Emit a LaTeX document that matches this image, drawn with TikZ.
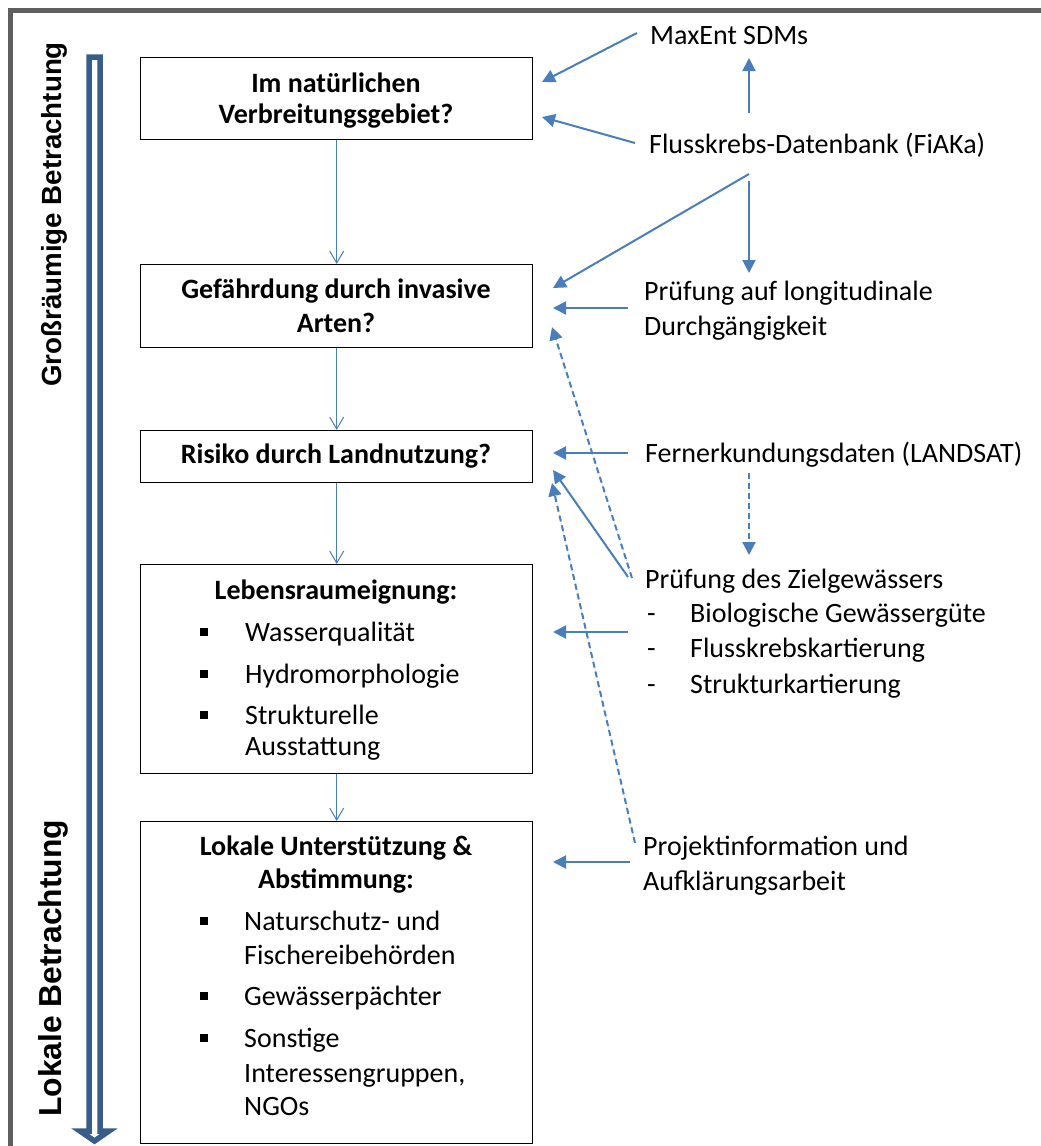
\documentclass[tikz,border=0pt]{standalone}
\usepackage{fontspec}
\setmainfont{Carlito}
\newfontfamily\arialf{Liberation Sans}
\usetikzlibrary{arrows.meta}
\definecolor{lblue}{RGB}{74,126,187}
\definecolor{dblue}{RGB}{56,93,138}
\definecolor{framegray}{RGB}{95,95,95}
\begin{document}
\begin{tikzpicture}[x=1pt,y=-1pt,
  box/.style={draw=black, line width=1.4pt, inner sep=0pt, anchor=north west, minimum width=392pt},
  txt/.style={font=\fontsize{28}{34}\selectfont, anchor=base west, inner sep=0pt},
  btxt/.style={font=\fontsize{28}{34}\selectfont\bfseries, anchor=base, inner sep=0pt},
  side/.style={font=\arialf\bfseries, rotate=90, anchor=base west, inner sep=0pt},
  flow/.style={draw=lblue, line width=1pt, -{Straight Barb[length=12pt,width=14pt]}},
  feed/.style={draw=lblue, line width=2pt, -{Triangle[length=13pt,width=13pt]}, fill=lblue},
  feedd/.style={feed, dash pattern=on 6pt off 4pt}
]
\useasboundingbox (0,0) rectangle (1041,1146);
\fill[white] (0,0) rectangle (1041,1146);
% frame
\draw[framegray, line width=5pt] (10.5,1146) -- (10.5,10.5) -- (1041,10.5);
% big double arrow
\draw[dblue, line width=5.5pt, fill=white, line join=miter]
  (89,57) -- (100,57) -- (100,1131) -- (109,1131) -- (94.5,1141) -- (80,1131) -- (89,1131) -- cycle;
% rotated labels
\node[side, font=\fontsize{27.7}{32}\selectfont\arialf\bfseries] (gross) at (61,387) {Großräumige Betrachtung};
\node[side, font=\fontsize{31.8}{36}\selectfont\arialf\bfseries] (lokal) at (61,1117) {Lokale Betrachtung};
% boxes
\node[box, minimum height=82pt] (b1) at (140,57) {};
\node[box, minimum height=83pt] (b2) at (140,264) {};
\node[box, minimum height=52pt] (b3) at (140,430) {};
\node[box, minimum height=209pt] (b4) at (140,564) {};
\node[box, minimum height=322pt] (b5) at (140,821) {};
% box texts
\node[btxt] (t1a) at (336,92) {Im natürlichen};
\node[btxt] (t1b) at (336,123) {Verbreitungsgebiet?};
\node[btxt] (t2a) at (336,298) {Gefährdung durch invasive};
\node[btxt] (t2b) at (336,332) {Arten?};
\node[btxt] (t3a) at (336,463) {Risiko durch Landnutzung?};
\node[btxt] (t4a) at (336,599) {Lebensraumeignung:};
\node[txt] (t4b) at (245,641) {Wasserqualität};
\node[txt] (t4c) at (245,683) {Hydromorphologie};
\node[txt] (t4d) at (245,724) {Strukturelle};
\node[txt] (t4e) at (245,755) {Ausstattung};
\foreach \yy in {641,683,724} {\fill (200,\yy-13) rectangle (208,\yy-5);}
\node[btxt] (t5a) at (336,855) {Lokale Unterstützung \&};
\node[btxt] (t5b) at (336,888) {Abstimmung:};
\node[txt] (t5c) at (244,930) {Naturschutz- und};
\node[txt] (t5d) at (244,964) {Fischereibehörden};
\node[txt] (t5e) at (244,1005) {Gewässerpächter};
\node[txt] (t5f) at (244,1047) {Sonstige};
\node[txt] (t5g) at (244,1082) {Interessengruppen,};
\node[txt] (t5h) at (244,1115) {NGOs};
\foreach \yy in {930,1005,1047} {\fill (200,\yy-13) rectangle (208,\yy-5);}
% flow arrows
\draw[flow] (b1.south) -- (b2.north);
\draw[flow] (b2.south) -- (b3.north);
\draw[flow] (b3.south) -- (b4.north);
\draw[flow] (b4.south) -- (b5.north);
% right texts
\node[txt] (maxent) at (650,44) {MaxEnt SDMs};
\node[txt] (fiaka) at (649,153) {Flusskrebs-Datenbank (FiAKa)};
\node[txt] (laengs) at (644,300) {Prüfung auf longitudinale};
\node[txt] (laengs2) at (644,335) {Durchgängigkeit};
\node[txt] (fern) at (645,462) {Fernerkundungsdaten (LANDSAT)};
\node[txt] (ziel) at (645,588) {Prüfung des Zielgewässers};
\node[txt] (z1d) at (647,622) {-};
\node[txt] (z1) at (690,622) {Biologische Gewässergüte};
\node[txt] (z2d) at (647,657) {-};
\node[txt] (z2) at (690,657) {Flusskrebskartierung};
\node[txt] (z3d) at (647,693) {-};
\node[txt] (z3) at (690,693) {Strukturkartierung};
\node[txt] (proj) at (643,855) {Projektinformation und};
\node[txt] (proj2) at (643,890) {Aufklärungsarbeit};
% connector end points
\coordinate (mxS) at (637,33);
\coordinate (mxT) at (542,82);
\coordinate (fkS) at (635,143);
\coordinate (fkT) at (542,117);
\coordinate (upS) at (749,113);
\coordinate (upT) at (749,58);
\coordinate (dgS) at (749,174);
\coordinate (dgT) at (553,288);
\coordinate (dnS) at (749,181);
\coordinate (dnT) at (749,273);
\coordinate (lgS) at (628,308);
\coordinate (lgT) at (553,308);
\coordinate (zdS) at (632,578);
\coordinate (zdT) at (552,327);
\coordinate (feS) at (628,453);
\coordinate (feT) at (553,453);
\coordinate (fdS) at (749,473);
\coordinate (fdT) at (749,555);
\coordinate (zsS) at (628,577);
\coordinate (zsT) at (553,470);
\coordinate (pdS) at (635,843);
\coordinate (pdT) at (552,483);
\coordinate (zhS) at (628,632);
\coordinate (zhT) at (553,632);
\coordinate (phS) at (630,862);
\coordinate (phT) at (553,862);
% feed arrows
\draw[feed] (mxS) -- (mxT);
\draw[feed] (fkS) -- (fkT);
\draw[feed] (upS) -- (upT);
\draw[feed] (dgS) -- (dgT);
\draw[feed] (dnS) -- (dnT);
\draw[feed] (lgS) -- (lgT);
\draw[feedd] (zdS) -- (zdT);
\draw[feed] (feS) -- (feT);
\draw[feedd] (fdS) -- (fdT);
\draw[feed] (zsS) -- (zsT);
\draw[feedd] (pdS) -- (pdT);
\draw[feed] (zhS) -- (zhT);
\draw[feed] (phS) -- (phT);
\end{tikzpicture}
\end{document}
